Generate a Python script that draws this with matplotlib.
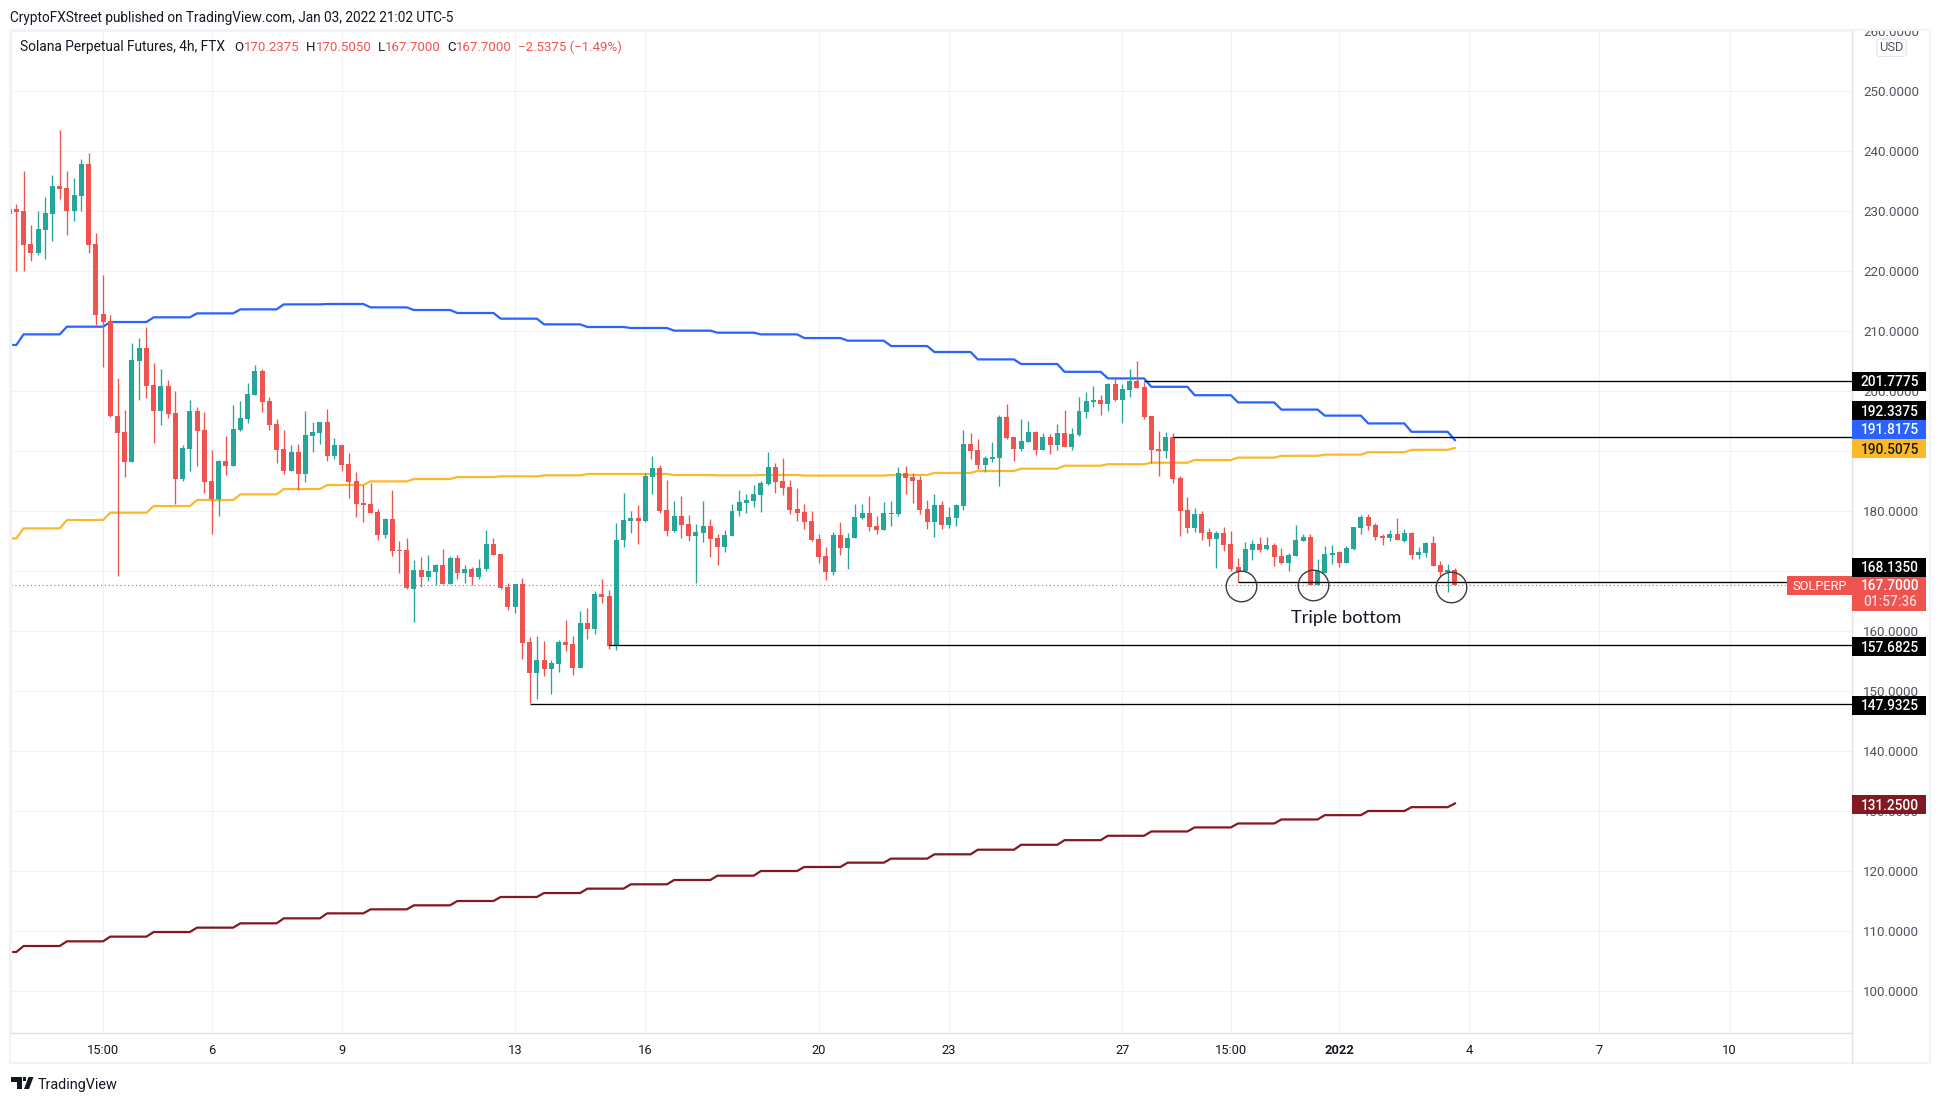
import numpy as np
import matplotlib
matplotlib.use('Agg')
import matplotlib.pyplot as plt
from matplotlib.patches import Rectangle, FancyBboxPatch, Polygon
from matplotlib.lines import Line2D
from matplotlib.transforms import Bbox

# OHLC, 4h candles (first one is cut by the left edge, so index starts at -1)
opens = [229.5,
 230.33, 230.0, 224.5, 223.0, 226.83, 229.5, 234.17, 233.83, 230.0,
 232.5, 237.83, 224.5, 212.83, 211.67, 195.83, 193.17, 188.17, 205.0, 207.17,
 201.0, 196.67, 200.83, 196.33, 185.33, 190.33, 196.67, 193.5, 185.0, 182.0,
 188.33, 187.5, 193.5, 195.33, 199.33, 203.33, 198.33, 194.5, 190.33, 186.67,
 189.83, 186.17, 192.5, 193.0, 194.83, 189.17, 191.0, 187.83, 185.0, 181.33,
 181.17, 179.83, 176.0, 178.67, 173.5, 173.5, 167.0, 170.17, 169.0, 169.83,
 171.0, 167.83, 172.17, 169.67, 170.33, 169.0,
 170.33, 174.5, 172.83, 167.33, 164.0, 167.83, 158.17, 153.0, 155.17, 153.67,
 154.5, 158.17, 157.83, 153.83, 161.33, 160.33, 166.17, 165.83, 157.5, 175.17,
 178.33, 178.83, 178.33, 185.67, 187.17, 180.17, 176.67, 179.17, 177.83, 175.83,
 176.33, 177.5, 175.5, 174.0, 175.83, 180.0, 181.33, 181.67, 182.67, 184.5,
 187.33, 185.0, 184.0, 180.33, 179.83, 178.33, 175.33, 172.5, 169.83, 176.0,
 173.83, 175.5, 178.83, 179.67, 177.5, 176.83, 179.5, 179.5, 186.33, 185.67,
 185.17, 180.33, 178.17, 181.0, 177.67, 178.83, 180.83, 191.17, 190.17, 187.67,
 188.67, 188.83, 195.67, 192.33, 190.33, 191.5, 193.17, 190.17, 192.33, 191.0,
 193.0, 190.67, 192.67, 196.5, 198.17, 198.5, 197.83, 201.17, 198.5, 200.17,
 201.67, 200.67, 195.83, 190.33, 190.0, 192.33, 185.5, 180.17, 177.17, 179.5,
 176.5, 175.33, 176.33, 174.5, 170.67, 170.0, 173.5, 174.5, 173.67, 174.33,
 172.5, 171.33, 172.5, 175.0, 175.67, 167.61, 169.67, 172.67, 173.17, 171.33,
 173.67, 177.17, 179.0, 177.67, 175.83, 175.5, 176.17, 175.0, 176.33, 172.67,
 173.0, 174.67, 171.0, 169.83, 170.24]
highs = [230.4,
 231.17, 236.67, 227.67, 230.0, 232.33, 236.0, 243.5, 236.67, 235.5,
 238.67, 239.67, 226.33, 219.33, 212.67, 202.17, 196.83, 208.0, 208.83, 210.67,
 204.67, 203.67, 201.83, 200.0, 191.0, 198.5, 197.33, 196.5, 190.17, 188.5,
 192.5, 197.67, 198.33, 201.33, 204.33, 203.67, 199.0, 195.33, 193.5, 191.0,
 191.17, 196.67, 194.83, 194.83, 197.0, 192.17, 191.0, 189.67, 186.5, 184.33,
 184.67, 180.33, 178.83, 183.5, 175.0, 175.5, 171.83, 172.33, 172.67, 171.17,
 173.67, 172.5, 172.67, 171.0, 170.67, 172.0,
 176.83, 175.5, 172.83, 168.0, 167.83, 168.83, 159.0, 159.17, 158.33, 155.17,
 158.5, 161.83, 159.17, 163.33, 163.83, 166.67, 168.67, 166.83, 178.0, 183.0,
 180.0, 181.0, 186.33, 189.17, 187.67, 185.17, 181.67, 182.5, 179.33, 177.83,
 181.67, 178.67, 176.17, 176.83, 181.17, 183.5, 182.83, 184.33, 185.0, 189.83,
 188.0, 188.83, 185.17, 183.83, 181.17, 180.0, 176.17, 174.0, 176.5, 178.17,
 176.33, 181.17, 181.17, 182.5, 179.17, 181.5, 181.67, 187.33, 187.5, 186.33,
 185.83, 181.83, 182.83, 181.67, 180.67, 181.17, 193.5, 193.0, 192.0, 189.17,
 191.5, 196.0, 197.83, 192.33, 195.33, 195.0, 193.33, 193.0, 192.83, 194.5,
 196.83, 193.83, 199.0, 199.83, 200.83, 199.33, 201.33, 202.0, 201.17, 203.67,
 205.0, 201.5, 195.83, 193.33, 193.17, 193.0, 185.83, 182.33, 180.5, 180.0,
 177.17, 176.67, 177.33, 176.67, 172.17, 174.83, 175.17, 175.67, 175.67, 174.67,
 173.83, 173.0, 177.67, 176.17, 176.17, 172.0, 174.17, 174.33, 173.33, 174.17,
 177.33, 179.33, 179.5, 178.0, 176.17, 176.83, 178.83, 177.0, 176.5, 174.0,
 174.83, 175.83, 171.67, 171.17, 170.505]
lows = [229.4,
 220.0, 220.0, 221.67, 222.67, 222.0, 225.0, 232.0, 226.0, 228.33,
 230.0, 223.0, 211.0, 204.0, 195.67, 169.17, 185.67, 188.17, 198.5, 198.83,
 191.33, 194.33, 195.5, 181.17, 185.0, 186.67, 187.5, 183.0, 176.17, 179.17,
 186.0, 187.5, 193.33, 194.67, 199.33, 196.5, 193.5, 188.0, 186.17, 186.67,
 183.5, 184.83, 189.83, 191.17, 188.33, 188.67, 186.67, 182.17, 179.0, 178.17,
 179.67, 175.17, 175.5, 172.5, 169.67, 167.0, 161.5, 167.33, 168.33, 167.67,
 167.83, 167.83, 168.67, 168.0, 167.67, 168.67,
 170.0, 172.67, 167.0, 163.5, 163.0, 155.33, 147.93, 148.67, 152.5, 149.5,
 153.17, 156.67, 152.67, 153.83, 158.67, 159.5, 164.67, 157.0, 156.83, 174.0,
 176.33, 174.5, 178.17, 182.83, 179.67, 175.83, 176.5, 175.5, 175.0, 168.0,
 174.83, 172.33, 171.0, 173.17, 175.83, 179.17, 179.67, 180.67, 179.83, 184.33,
 183.0, 182.67, 179.5, 178.33, 177.0, 175.0, 171.33, 168.5, 169.33, 172.67,
 170.33, 175.5, 178.67, 176.67, 176.17, 176.83, 177.5, 179.17, 182.83, 181.33,
 179.5, 177.0, 175.67, 177.0, 177.17, 177.5, 180.17, 188.67, 187.0, 186.5,
 188.17, 184.17, 192.0, 188.33, 190.0, 191.5, 189.33, 190.17, 189.5, 190.17,
 190.67, 190.17, 192.5, 195.5, 197.33, 196.0, 196.67, 198.33, 194.67, 199.0,
 200.5, 195.33, 188.0, 185.83, 188.83, 184.67, 175.83, 176.33, 176.5, 175.17,
 174.17, 170.5, 173.33, 170.0, 168.13, 169.83, 171.83, 173.17, 173.5, 170.83,
 171.17, 170.0, 172.5, 175.0, 167.61, 167.61, 169.67, 171.17, 170.67, 171.33,
 173.5, 176.17, 176.83, 175.17, 174.33, 175.0, 175.17, 174.83, 172.0, 172.0,
 172.33, 170.83, 169.17, 166.5, 167.7]
closes = [230.3,
 229.89, 224.33, 223.0, 227.0, 229.67, 234.17, 233.67, 230.0, 232.67,
 237.83, 224.33, 212.67, 211.5, 195.83, 193.0, 188.17, 205.17, 207.17, 200.83,
 196.67, 200.83, 196.17, 185.33, 190.5, 196.67, 193.33, 184.83, 182.0, 188.33,
 187.5, 193.67, 195.5, 199.5, 203.33, 198.17, 194.33, 190.17, 186.67, 189.83,
 186.17, 192.67, 193.17, 194.83, 189.17, 191.0, 187.67, 184.83, 181.17, 181.0,
 179.67, 176.0, 178.67, 173.33, 173.33, 167.17, 170.17, 169.0, 170.0, 171.0,
 167.83, 172.17, 169.67, 170.33, 169.0, 170.5,
 174.5, 172.67, 167.17, 164.0, 167.83, 158.0, 153.0, 155.17, 153.67, 154.67,
 158.17, 157.67, 153.83, 161.33, 160.33, 166.17, 165.67, 157.5, 175.17, 178.5,
 178.83, 178.33, 185.83, 187.17, 180.0, 176.67, 179.17, 177.67, 175.83, 176.5,
 177.5, 175.33, 174.0, 176.0, 180.0, 181.5, 181.83, 182.83, 184.67, 187.33,
 184.83, 183.83, 180.17, 179.67, 178.17, 175.17, 172.33, 169.83, 176.0, 173.83,
 175.5, 179.0, 179.67, 177.33, 176.83, 179.67, 179.67, 186.33, 185.5, 185.0,
 180.17, 178.17, 181.0, 177.67, 179.0, 181.0, 191.17, 190.0, 187.67, 188.83,
 189.0, 195.67, 192.17, 190.33, 191.67, 193.17, 190.17, 192.33, 191.0, 193.0,
 190.67, 192.83, 196.67, 198.33, 198.5, 197.83, 201.17, 198.5, 200.33, 201.67,
 200.5, 195.67, 190.17, 190.0, 192.33, 185.33, 180.0, 177.17, 179.5, 176.33,
 175.33, 176.33, 174.33, 170.33, 169.83, 173.67, 174.5, 173.5, 174.33, 172.33,
 171.33, 172.67, 175.17, 175.67, 167.61, 170.0, 172.83, 173.0, 171.33, 173.83,
 177.33, 179.0, 177.5, 175.67, 175.5, 176.17, 175.17, 176.33, 172.67, 173.17,
 174.67, 170.83, 169.83, 170.17, 167.7]

# one level per day (6 candles), first level is the day before, last one the new day
blue_levels = [207.67, 209.44, 210.72, 211.5, 212.28, 212.94, 213.61, 214.44, 214.5,
               213.94, 213.5, 213.0, 212.06, 211.11, 210.67, 210.5, 210.06, 209.72,
               209.44, 208.83, 208.39, 207.5, 206.5, 205.27, 204.5, 203.2, 202.1,
               200.7, 199.3, 198.1, 196.9, 195.9, 194.6, 193.2, 191.8175]
yellow_levels = [175.44, 177.1, 178.5, 179.72, 180.83, 181.83, 182.78, 183.67, 184.33,
                 184.94, 185.33, 185.67, 185.78, 185.95, 186.17, 186.17, 186.0, 185.95,
                 186.0, 185.9, 185.9, 186.0, 186.35, 186.67, 187.05, 187.55, 187.8,
                 188.05, 188.5, 188.9, 189.2, 189.4, 189.8, 190.2, 190.5075]
red_levels = [106.5, 107.5, 108.28, 109.06, 109.83, 110.56, 111.28, 112.11, 112.94,
              113.61, 114.28, 115.0, 115.67, 116.33, 117.06, 117.78, 118.5, 119.22,
              120.0, 120.67, 121.39, 122.06, 122.78, 123.55, 124.37, 125.14, 125.87,
              126.59, 127.26, 127.92, 128.59, 129.31, 130.0, 130.64, 131.25]

# horizontal rays: start candle, price
ray_starts = [156, 160, 169, 82, 71]
ray_prices = [201.62, 192.34, 168.2, 157.68, 147.8]

circle_x = [169.4, 179.4, 198.4]
circle_y = [167.5, 167.67, 167.33]

y_ticks = list(range(100, 270, 10))
x_tick_pos = [12, 27, 45, 69, 87, 111, 129, 153, 168, 183, 201, 219, 237]
x_tick_labels = ['15:00', '6', '9', '13', '16', '20', '23', '27', '15:00', '2022', '4', '7', '10']

UP = '#26a69a'
DOWN = '#ef5350'
BLUE = '#2962ff'
YELLOW = '#fbb92a'
DARKRED = '#801922'
GRID = '#f0f2f6'
BORDER = '#e0e3eb'
OUTER = '#f0f3fa'
INK = '#131722'

W, H = 1941, 1103
plt.rcParams['font.family'] = ['Roboto', 'DejaVu Sans']
fig = plt.figure(figsize=(W / 100, H / 100), dpi=100, facecolor='white')


def fx(x):
    return x / W


def fy(y):
    return 1 - y / H


def px_text(x, y, s, **kw):
    kw.setdefault('va', 'center')
    kw.setdefault('fontsize', 9.6)
    kw.setdefault('color', INK)
    return fig.text(fx(x), fy(y + 1), s, **kw)


def px_box(x0, y0, x1, y1, color):
    fig.add_artist(Rectangle((fx(x0), fy(y1)), fx(x1 - x0), (y1 - y0) / H,
                             transform=fig.transFigure, facecolor=color, edgecolor='none'))


ax = fig.add_axes([fx(11), fy(1033), fx(1852 - 11), (1033 - 30) / H])
ax.set_xlim(-0.737, 253.93)
ax.set_ylim(93, 260.17)

x = np.arange(len(closes)) - 1
o = np.array(opens)
h = np.array(highs)
l = np.array(lows)
c = np.array(closes)
colors = [UP if cc >= oo else DOWN for oo, cc in zip(o, c)]

ax.vlines(x, l, h, colors=colors, linewidth=0.95, zorder=3)
ax.bar(x, np.abs(c - o), bottom=np.minimum(o, c), width=0.69, color=colors, linewidth=0, zorder=3)

# daily levels: flat over six candles, changes between candles 6k and 6k+1
step_x = np.arange(-1, 200)
day = np.where(step_x <= 0, 0, (step_x - 1) // 6 + 1)
ax.plot(step_x, np.array(blue_levels)[day], color=BLUE, lw=1.6, zorder=2)
ax.plot(step_x, np.array(yellow_levels)[day], color=YELLOW, lw=1.6, zorder=2)
ax.plot(step_x, np.array(red_levels)[day], color=DARKRED, lw=1.6, zorder=2)

ax.axhline(closes[-1], color=DOWN, lw=0.8, linestyle=(0, (1, 2.5)), zorder=1.5)

for start, price in zip(ray_starts, ray_prices):
    ax.plot([start, 253.93], [price, price], color='black', lw=0.95, zorder=4, solid_capstyle='butt')

ax.plot(circle_x, circle_y, 'o', mfc='none', mec='#3c3c3c', mew=1.0, ms=22, zorder=5, clip_on=False)
ax.text(183.9, 162.2, 'Triple bottom', family='Lato', fontsize=13.2, color=INK,
        ha='center', va='center', zorder=5)

ax.set_xticks(x_tick_pos)
ax.set_xticklabels(x_tick_labels)
ax.set_yticks(y_ticks)
ax.set_yticklabels(['%.4f' % t for t in y_ticks])
ax.yaxis.tick_right()
ax.tick_params(axis='y', length=0, pad=8, labelsize=9.6, labelcolor='#50535e')
ax.tick_params(axis='x', length=0, pad=8, labelsize=9.3, labelcolor=INK)
ax.get_xticklabels()[9].set_fontweight('bold')
ax.grid(True, color=GRID, lw=0.8)
ax.set_axisbelow(True)
for side, col in [('left', OUTER), ('top', OUTER), ('right', BORDER), ('bottom', BORDER)]:
    ax.spines[side].set_color(col)
    ax.spines[side].set_linewidth(1.0)

# price labels get cut off at the top of the pane
clip = Bbox([[1852, H - 1063], [1930, H - 30]])
for t in ax.yaxis.get_major_ticks():
    t.label2.set_clip_on(True)
    t.label2.set_clip_box(clip)

# frame round the whole chart
fig.add_artist(Rectangle((fx(10), fy(1063)), fx(1930 - 10), (1063 - 30) / H, transform=fig.transFigure,
                         facecolor='none', edgecolor=OUTER, lw=1.5))
fig.add_artist(Line2D([fx(1852), fx(1852)], [fy(1033), fy(1063)], color=BORDER, lw=1.0))

# labels on the price scale
label_cx = 1890
for y0, y1, col, txt, ink in [(372, 391, 'black', '201.7775', 'white'),
                              (401, 420, 'black', '192.3375', 'white'),
                              (420, 439, BLUE, '191.8175', 'white'),
                              (439, 458, YELLOW, '190.5075', INK),
                              (558, 577, 'black', '168.1350', 'white'),
                              (637, 656, 'black', '157.6825', 'white'),
                              (696, 715, 'black', '147.9325', 'white'),
                              (795, 814, DARKRED, '131.2500', 'white')]:
    px_box(1852, y0, 1926, y1, col)
    px_text(label_cx, (y0 + y1) / 2, txt, color=ink, ha='center', fontsize=9.8, fontweight='medium')
px_box(1852, 577, 1926, 611, DOWN)
px_text(label_cx, 585.5, '167.7000', color='white', ha='center', fontsize=9.8, fontweight='medium')
px_text(label_cx, 601.5, '01:57:36', color='#fbd5d4', ha='center', fontsize=9.8, fontweight='medium')
px_box(1787, 576, 1852, 595, DOWN)
px_text(1819.5, 585, 'SOLPERP', color='white', ha='center', fontsize=9.3)

fig.add_artist(FancyBboxPatch((fx(1877), fy(56.5)), fx(29), 17.5 / H, transform=fig.transFigure,
                              boxstyle='round,pad=0,rounding_size=0.002', facecolor='white',
                              edgecolor=BORDER, lw=0.8, mutation_aspect=H / W * 1.7))
px_text(1891.5, 46.5, 'USD', ha='center', fontsize=9.3, color='#50535e')

# header
px_text(10.5, 17, 'CryptoFXStreet published on TradingView.com, Jan 03, 2022 21:02 UTC-5', fontsize=9.83)
px_text(20, 46.5, 'Solana Perpetual Futures, 4h, FTX', fontsize=9.9)
for xp, s, col in [(234, 'O', INK), (244, '170.2375', DOWN), (306, 'H', INK), (315.5, '170.5050', DOWN),
                   (378, 'L', INK), (385, '167.7000', DOWN), (447, 'C', INK), (455.5, '167.7000', DOWN),
                   (518, '\u22122.5375 (\u22121.49%)', DOWN)]:
    px_text(xp, 46.5, s, color=col, fontsize=9.5)

# TradingView logo and name
fig.add_artist(Polygon([(fx(a), fy(b)) for a, b in
                        [(11, 1077), (21.5, 1077), (21.5, 1089), (16.5, 1089), (16.5, 1081.5), (11, 1081.5)]],
                       transform=fig.transFigure, facecolor=INK, edgecolor='none'))
fig.add_artist(Polygon([(fx(a), fy(b)) for a, b in
                        [(24, 1089), (28.5, 1077), (33.5, 1077), (29, 1089)]],
                       transform=fig.transFigure, facecolor=INK, edgecolor='none'))
fig.add_artist(Rectangle((fx(22.5), fy(1081)), fx(3.8), 3.8 / H, transform=fig.transFigure,
                         facecolor=INK, edgecolor='none'))
px_text(37.5, 1083.5, 'TradingView', fontsize=10.4)

fig.savefig('out.png', dpi=100, facecolor='white')
